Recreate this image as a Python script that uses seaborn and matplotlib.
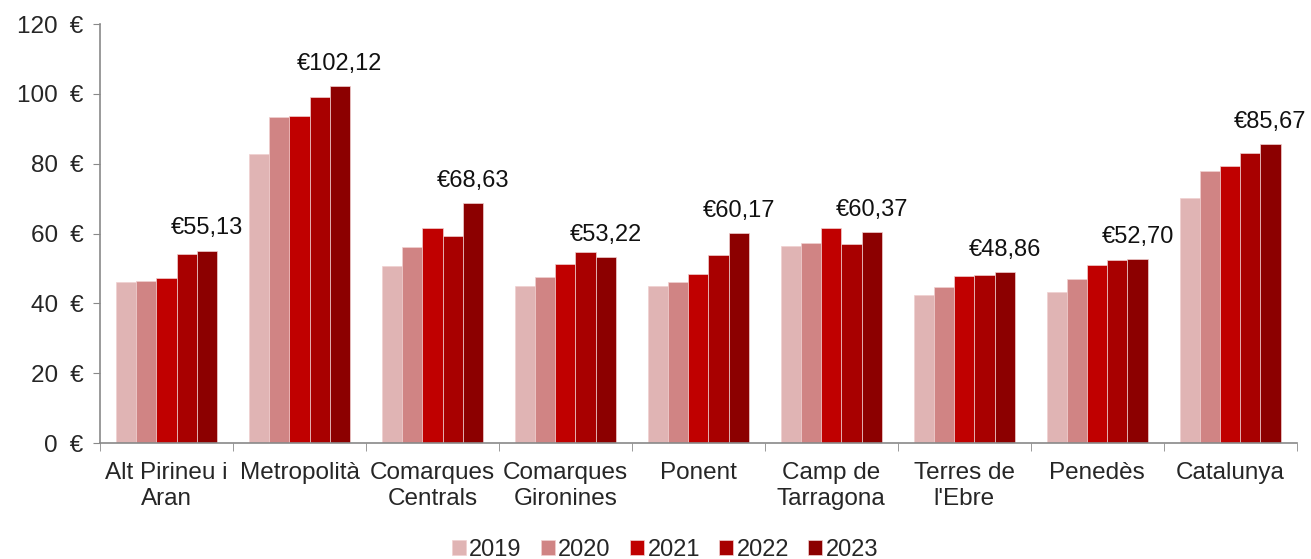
import seaborn as sns
import matplotlib.pyplot as plt
import pandas as pd
from matplotlib.ticker import FixedLocator, FuncFormatter

regions = ["Alt Pirineu i\nAran", "Metropolità", "Comarques\nCentrals", "Comarques\nGironines",
           "Ponent", "Camp de\nTarragona", "Terres de\nl'Ebre", "Penedès", "Catalunya"]
years = ["2019", "2020", "2021", "2022", "2023"]
v2019 = [46.0, 82.8, 50.7, 44.9, 44.9, 56.4, 42.3, 43.3, 70.1]
v2020 = [46.5, 93.5, 56.2, 47.6, 46.0, 57.4, 44.6, 47.0, 77.8]
v2021 = [47.3, 93.7, 61.6, 51.2, 48.5, 61.5, 47.9, 51.0, 79.2]
v2022 = [54.0, 99.1, 59.3, 54.6, 53.8, 57.0, 48.0, 52.4, 83.0]
v2023 = [55.13, 102.12, 68.63, 53.22, 60.17, 60.37, 48.86, 52.70, 85.67]
colors = ["#E0B4B4", "#D08484", "#C00000", "#A80000", "#8C0000"]

rows = []
for y, vals in zip(years, [v2019, v2020, v2021, v2022, v2023]):
    for r, v in zip(regions, vals):
        rows.append({"region": r, "year": y, "value": v})
df = pd.DataFrame(rows)

sns.set_style("white")
plt.rcParams['font.family'] = ['Liberation Sans', 'DejaVu Sans']
fig = plt.figure(figsize=(13.11, 5.59), dpi=100)
ax = fig.add_axes([0.0763, 0.2075, 0.9127, 0.7495])

sns.barplot(data=df, x="region", y="value", hue="year", palette=colors, saturation=1,
            width=0.76, edgecolor="#F0D0D0", linewidth=0.5, ax=ax)

ax.bar_label(ax.containers[-1], labels=["€" + f"{v:.2f}".replace(".", ",") for v in v2023],
             padding=8, fontsize=17, color="#111111")

ax.set_ylim(0, 120)
ax.set_xlim(-0.5, len(regions) - 0.5)
ax.set_yticks(range(0, 121, 20))
ax.yaxis.set_major_formatter(FuncFormatter(lambda v, p: f"{int(v)}\u2002€"))
ax.set_xlabel("")
ax.set_ylabel("")
ax.tick_params(axis="y", labelsize=17.5, length=5, color="#898989", left=True, pad=7)
ax.tick_params(axis="x", which="major", labelsize=17.5, length=0, pad=14)
ax.xaxis.set_minor_locator(FixedLocator([i + 0.5 for i in range(-1, len(regions))]))
ax.tick_params(axis="x", which="minor", length=6, color="#898989", bottom=True)
for s in ["top", "right"]:
    ax.spines[s].set_visible(False)
for s in ["left", "bottom"]:
    ax.spines[s].set_color("#898989")
    ax.spines[s].set_linewidth(1.2)

ax.legend(loc="center", bbox_to_anchor=(0.472, -0.255), ncol=5, frameon=False,
          fontsize=17, handlelength=0.6, handleheight=0.6, handletextpad=0.15,
          columnspacing=0.8, borderaxespad=0)

fig.savefig("out.png", dpi=100)
